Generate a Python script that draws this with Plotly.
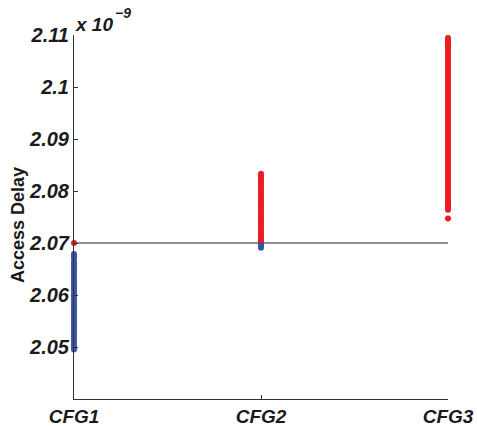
import plotly.graph_objects as go

categories = ["CFG1", "CFG2", "CFG3"]
y_ticks = [2.05, 2.06, 2.07, 2.08, 2.09, 2.10, 2.11]
y_tick_labels = ["2.05", "2.06", "2.07", "2.08", "2.09", "2.1", "2.11"]
threshold = 2.07

# Access delay samples (x 1e-9 s)
cfg1_blue = [2.0495, 2.0500, 2.0505, 2.0510, 2.0515, 2.0520, 2.0525, 2.0530, 2.0535,
             2.0540, 2.0545, 2.0550, 2.0555, 2.0560, 2.0565, 2.0570, 2.0575, 2.0580,
             2.0585, 2.0590, 2.0595, 2.0600, 2.0605, 2.0610, 2.0615, 2.0620, 2.0625,
             2.0630, 2.0635, 2.0640, 2.0645, 2.0650, 2.0655, 2.0660, 2.0664,
             2.0671, 2.0675, 2.0679]
cfg1_red = [2.0700]
cfg2_blue = [2.0691, 2.0694, 2.0697, 2.0700, 2.0703]
cfg2_red = [2.0706, 2.0710, 2.0715, 2.0720, 2.0725, 2.0730, 2.0735, 2.0740, 2.0745,
            2.0750, 2.0755, 2.0760, 2.0765, 2.0770, 2.0775, 2.0780, 2.0785, 2.0790,
            2.0795, 2.0800, 2.0805, 2.0810, 2.0815, 2.0820, 2.0825, 2.0829, 2.0833]
cfg3_red = [2.0747, 2.0764, 2.0768, 2.0772, 2.0776, 2.0780, 2.0785, 2.0790, 2.0795,
            2.0800, 2.0805, 2.0810, 2.0815, 2.0820, 2.0825, 2.0830, 2.0835, 2.0840,
            2.0845, 2.0850, 2.0855, 2.0860, 2.0865, 2.0870, 2.0875, 2.0880, 2.0885,
            2.0890, 2.0895, 2.0900, 2.0905, 2.0910, 2.0915, 2.0920, 2.0925, 2.0930,
            2.0935, 2.0940, 2.0945, 2.0950, 2.0955, 2.0960, 2.0965, 2.0970, 2.0975,
            2.0980, 2.0985, 2.0990, 2.0995, 2.1000, 2.1005, 2.1010, 2.1015, 2.1020,
            2.1025, 2.1030, 2.1035, 2.1040, 2.1045, 2.1050, 2.1055, 2.1060, 2.1065,
            2.1070, 2.1074, 2.1078, 2.1082, 2.1086, 2.1090, 2.1094]

BLUE = "#3b54a4"
RED = "#ec1c24"
FAMILY = "Liberation Sans, Arial, sans-serif"
INK = "#1a1a1a"
FONT = dict(family=FAMILY, size=20, color=INK, weight="bold", style="italic")
XFONT = dict(family=FAMILY, size=19, color=INK, weight="bold", style="italic")

fig = go.Figure()

# threshold line
fig.add_trace(go.Scatter(x=[0, 2], y=[threshold, threshold], mode="lines",
                         line=dict(color="#222222", width=1), cliponaxis=False,
                         hoverinfo="skip", showlegend=False))

def add_pts(xi, ys, color):
    fig.add_trace(go.Scatter(x=[xi] * len(ys), y=ys, mode="markers",
                             marker=dict(color=color, size=6, line=dict(width=0)),
                             cliponaxis=False, showlegend=False))

add_pts(0, cfg1_blue, BLUE)
add_pts(0, cfg1_red, RED)
add_pts(1, cfg2_blue, BLUE)
add_pts(1, cfg2_red, RED)
add_pts(2, cfg3_red, RED)

fig.update_layout(
    width=477, height=426,
    margin=dict(l=74, r=29, t=35, b=27),
    plot_bgcolor="white", paper_bgcolor="white",
    font=FONT,
    xaxis=dict(range=[0, 2], tickvals=[0, 1, 2], ticktext=categories,
               showgrid=False, zeroline=False, showline=True, linecolor="#333333",
               linewidth=1, ticks="inside", ticklen=4, tickcolor="#333333",
               tickfont=XFONT, automargin=False, ticklabeloverflow="allow"),
    yaxis=dict(range=[2.04, 2.11], tickvals=y_ticks, ticktext=y_tick_labels,
               showgrid=False, zeroline=False, showline=True, linecolor="#333333",
               linewidth=1, ticks="inside", ticklen=4, tickcolor="#333333",
               tickfont=FONT, automargin=False),
    annotations=[
        dict(text="Access Delay", xref="paper", yref="paper", x=0, y=0.478,
             xanchor="center", yanchor="middle", textangle=-90, showarrow=False,
             xshift=-56,
             font=dict(family=FAMILY, size=18, color=INK, weight="bold", style="normal")),
        dict(text="x 10", xref="paper", yref="paper", x=0, y=1,
             xanchor="left", yanchor="bottom", showarrow=False,
             font=dict(family=FAMILY, size=19, color=INK, weight="bold", style="italic"),
             xshift=-1, yshift=-2),
        dict(text="\u22129", xref="paper", yref="paper", x=0, y=1,
             xanchor="left", yanchor="bottom", showarrow=False,
             font=dict(family=FAMILY, size=14, color=INK, weight="bold", style="italic"),
             xshift=39, yshift=12),
    ],
)

fig.write_html("out.html", config={"displayModeBar": False},
               post_script="document.body.style.margin='0';document.body.style.overflow='hidden';")
